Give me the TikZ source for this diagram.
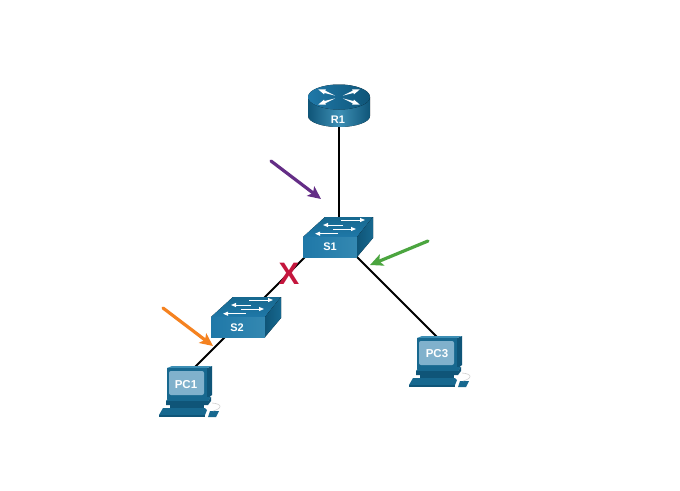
\documentclass[tikz,border=0pt]{standalone}
\usepackage{fontspec}
\setmainfont{Liberation Sans}
\usetikzlibrary{arrows.meta}
\definecolor{blueA}{HTML}{1F78A8}
\definecolor{blueB}{HTML}{0F5578}
\definecolor{blueC}{HTML}{3D8FB5}
\definecolor{blueD}{HTML}{17688F}
\definecolor{scrn}{HTML}{80B1CC}
\definecolor{purpleArrow}{HTML}{642D86}
\definecolor{greenArrow}{HTML}{4BA53F}
\definecolor{orangeArrow}{HTML}{F58220}
\definecolor{redX}{HTML}{C4163D}
\tikzset{
  linkline/.style={draw=black,line width=2pt},
  devlabel/.style={text=white,font=\fontsize{11}{13}\selectfont\bfseries,inner sep=0pt},
  notearrow/.style={line width=3.2pt,line cap=round,-{Stealth[length=13pt,width=12pt,inset=3pt]}},
  tiparrow/.style={draw=white,line width=1pt,-{Triangle[length=5pt,width=4pt]}},
  swpic/.pic={
    % origin: front-face top-left corner
    \fill[bottom color=blueA,top color=blueD] (0,0) -- (54,0) -- (70,-20) -- (22,-20) -- cycle;
    \fill[left color=blueA,right color=blueC!70!blueA] (0,0) rectangle (54,20);
    \fill[left color=blueB,right color=blueD] (54,0) -- (70,-20) -- (70,1) -- (54,20) -- cycle;
    \draw[tiparrow] (38,-17) -- (62,-17);
    \draw[tiparrow] (40,-12) -- (20,-12);
    \draw[tiparrow] (30,-8) -- (53,-8);
    \draw[tiparrow] (35,-3.3) -- (12,-3.3);
  },
  routerpic/.pic={
    % origin: centre of top ellipse
    \fill[left color=blueB,right color=blueB,middle color=blueC]
      (-31,0) -- (-31,19) arc[start angle=180,end angle=0,x radius=31,y radius=11] -- (31,0) -- cycle;
    \fill[left color=blueA,right color=blueB] (0,0) ellipse[x radius=31,y radius=12.5];
    \foreach \a in {20,160,200,340}
      \fill[white,rotate=\a] (4,0) -- (15,-1.2) -- (15,-2.6) -- (22,0) -- (15,2.6) -- (15,1.2) -- cycle;
  },
  pcpic/.pic={
    % origin: monitor front top-left
    \fill[blueB] (40,0) -- (45,-2) -- (45,27) -- (40,31) -- cycle;
    \fill[blueC] (0,0) -- (5,-2) -- (45,-2) -- (40,0) -- cycle;
    \fill[blueD] (0,0) rectangle (40,31);
    \fill[scrn,rounded corners=2pt] (2,3) rectangle (37,27);
    \fill[blueD] (-1,33) -- (2,29) -- (44,29) -- (41,33) -- cycle;
    \fill[blueB] (-1,33) -- (41,33) -- (44,29) -- (44,33) -- (41,37) -- (-1,37) -- cycle;
    \fill[blueB] (3,37) rectangle (37,40);
    \fill[blueD] (-4,40) -- (38,40) -- (40,42) -- (38,47) -- (-8,47) -- cycle;
    \fill[blueB] (-8,47) rectangle (38,49);
    \fill[blueD] (43,43) -- (52,43) -- (49,49) -- (41,49) -- cycle;
    \draw[gray!35,line width=0.6pt] (46,43) .. controls (54,41) and (57,36) .. (45,35);
  }
}
\begin{document}
\begin{tikzpicture}[x=1pt,y=-1pt]
\useasboundingbox (0,0) rectangle (680,490);
\fill[white] (0,0) rectangle (680,490);
% link end points
\coordinate (r1port) at (339,120);
\coordinate (s1up) at (339,225);
\coordinate (s1sw) at (310,252);
\coordinate (s1se) at (352,252);
\coordinate (s2ne) at (258,304);
\coordinate (s2sw) at (230,332);
\coordinate (pc1top) at (195,367);
\coordinate (pc3top) at (437,337);
\draw[linkline] (r1port) -- (s1up);
\draw[linkline] (s1sw) -- (s2ne);
\draw[linkline] (s1se) -- (pc3top);
\draw[linkline] (s2sw) -- (pc1top);
% devices
\pic at (339,97) {routerpic};
\pic at (303,237) {swpic};
\pic at (211,317) {swpic};
\pic at (167,368) {pcpic};
\pic at (417,338) {pcpic};
\node[devlabel] (R1) at (338,120) {R1};
\node[devlabel] (S1) at (330,247) {S1};
\node[devlabel] (S2) at (237,328) {S2};
\node[devlabel,font=\fontsize{11.5}{13}\selectfont\bfseries] (PC1) at (186,385) {PC1};
\node[devlabel,font=\fontsize{11.5}{13}\selectfont\bfseries] (PC3) at (437,354) {PC3};
% failure mark
\node[text=redX,inner sep=0pt,font=\fontsize{31}{32}\selectfont] (fail) at (289,274) {\textbf{X}};
% note arrows
\coordinate (pa) at (271,161); \coordinate (pb) at (321,199);
\coordinate (ga) at (428,241); \coordinate (gb) at (370,265);
\coordinate (oa) at (163,308); \coordinate (ob) at (213,346);
\draw[notearrow,draw=purpleArrow,color=purpleArrow] (pa) -- (pb);
\draw[notearrow,draw=greenArrow,color=greenArrow] (ga) -- (gb);
\draw[notearrow,draw=orangeArrow,color=orangeArrow] (oa) -- (ob);
\end{tikzpicture}
\end{document}
